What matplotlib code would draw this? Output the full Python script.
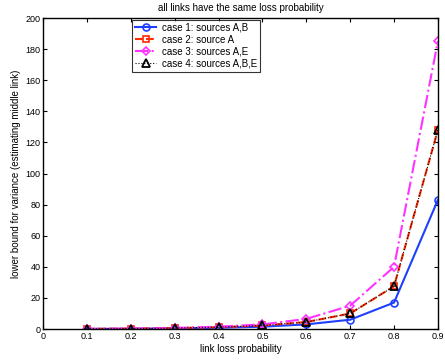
import matplotlib
matplotlib.use("Agg")
import matplotlib.pyplot as plt

plt.rcParams['font.family'] = ['Liberation Sans', 'DejaVu Sans']

x = [0.1, 0.2, 0.3, 0.4, 0.5, 0.6, 0.7, 0.8, 0.9]
case1 = [0.1, 0.2, 0.4, 0.8, 1.5, 3.0, 6.0, 17.0, 83.0]
case2 = [0.1, 0.3, 0.6, 1.2, 2.3, 4.5, 10.0, 27.5, 128.0]
case3 = [0.1, 0.3, 0.7, 1.5, 3.0, 6.5, 15.0, 40.0, 185.0]
case4 = [0.1, 0.3, 0.6, 1.2, 2.3, 4.5, 10.0, 27.5, 128.0]
labels = ['case 1: sources A,B', 'case 2: source A', 'case 3: sources A,E', 'case 4: sources A,B,E']

fig = plt.figure(figsize=(4.45, 3.6), dpi=100)
ax = fig.add_axes([0.097, 0.086, 0.887, 0.864])

ax.plot(x, case1, color='#1f3fff', linestyle='-', marker='o', markersize=5,
        markerfacecolor='none', markeredgewidth=1.2, linewidth=1.5, label=labels[0])
ax.plot(x, case2, color='#ff2a00', linestyle='--', marker='s', markersize=4,
        markerfacecolor='none', markeredgewidth=1.2, linewidth=1.5, label=labels[1])
ax.plot(x, case3, color='#ff33ff', linestyle='-.', marker='D', markersize=4.5,
        markerfacecolor='none', markeredgewidth=1.2, linewidth=1.5, label=labels[2])
ax.plot(x, case4, color='black', linestyle=':', marker='^', markersize=5.5,
        markerfacecolor='none', markeredgewidth=1.3, linewidth=0.8, label=labels[3])

ax.set_xlim(0, 0.9)
ax.set_ylim(0, 200)
ax.set_xticks([0, 0.1, 0.2, 0.3, 0.4, 0.5, 0.6, 0.7, 0.8, 0.9])
ax.set_xticklabels(['0', '0.1', '0.2', '0.3', '0.4', '0.5', '0.6', '0.7', '0.8', '0.9'])
ax.set_yticks(range(0, 201, 20))
ax.tick_params(direction='in', top=True, right=True, labelsize=6.5, length=3, pad=2)
for s in ax.spines.values():
    s.set_linewidth(1.0)

ax.set_xlabel('link loss probability', fontsize=7, labelpad=2)
ax.set_ylabel('lower bound for variance (estimating middle link)', fontsize=7, labelpad=3)
ax.set_title('all links have the same loss probability', fontsize=7, pad=5)

leg = ax.legend(loc='upper left', bbox_to_anchor=(0.22, 1.0), fontsize=7,
                frameon=True, fancybox=False, edgecolor='black', borderpad=0.3,
                labelspacing=0.2, handlelength=2.2, handletextpad=0.6, borderaxespad=0.2)
leg.get_frame().set_linewidth(0.8)

fig.savefig('out.png', dpi=100)
